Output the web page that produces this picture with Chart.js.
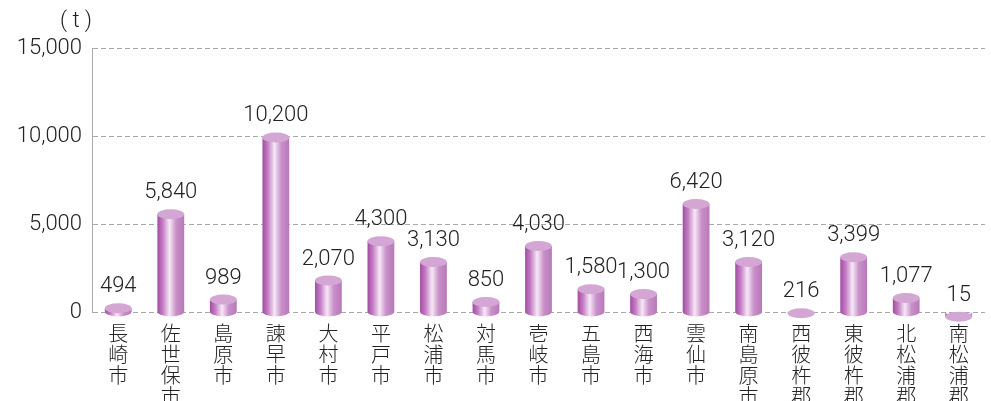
<!DOCTYPE html>
<html>
<head>
<meta charset="utf-8">
<script src="https://cdn.jsdelivr.net/npm/chart.js@4/dist/chart.umd.min.js"></script>
<style>
  html, body { margin: 0; padding: 0; background: #fff; }
</style>
</head>
<body>
<canvas id="chart" width="991" height="401"></canvas>
<script>
// ---------------- Data ----------------
const categories = [ '長崎市', '佐世保市', '島原市', '諫早市', '大村市', '平戸市', '松浦市',
                     '対馬市', '壱岐市', '五島市', '西海市', '雲仙市', '南島原市',
                     '西彼杵郡', '東彼杵郡', '北松浦郡', '南松浦郡' ] ;
const tonnage = [ 494, 5840, 989, 10200, 2070, 4300, 3130, 850, 4030, 1580, 1300,
                  6420, 3120, 216, 3399, 1077, 15 ] ;
const yTicks = [ 0, 5000, 10000, 15000 ] ;
const unitLabel = '( t )' ;

const NUM_FONT = 'Roboto, "DejaVu Sans", sans-serif' ;
const JP_FONT = '"Noto Sans CJK JP", sans-serif' ;

function fmt( v ) {
    return v.toLocaleString( 'en-US' ) ;
}

// cylinder drawing for each bar
const cylinderPlugin = {
    id: 'cylinder',
    afterDatasetsDraw( chart ) {
        const ctx = chart.ctx ;
        const meta = chart.getDatasetMeta( 0 ) ;
        meta.data.forEach( function( bar, i ) {
            const w = bar.width ;
            const x0 = bar.x - w / 2 ;
            const ry = 5 ;
            const top = bar.y + ry ;
            const bottom = bar.base ;
            const grad = ctx.createLinearGradient( x0, 0, x0 + w, 0 ) ;
            grad.addColorStop( 0.0, '#a24ca2' ) ;
            grad.addColorStop( 0.2, '#c47cc4' ) ;
            grad.addColorStop( 0.45, '#f6e8f6' ) ;
            grad.addColorStop( 0.7, '#c890c8' ) ;
            grad.addColorStop( 1.0, '#b878b8' ) ;
            ctx.save() ;
            ctx.fillStyle = grad ;
            ctx.beginPath() ;
            ctx.moveTo( x0, top ) ;
            ctx.lineTo( x0, bottom ) ;
            ctx.ellipse( bar.x, bottom, w / 2, ry, 0, Math.PI, 0, true ) ;
            ctx.lineTo( x0 + w, top ) ;
            ctx.closePath() ;
            ctx.fill() ;
            ctx.fillStyle = '#d3a6d3' ;
            ctx.beginPath() ;
            ctx.ellipse( bar.x, top, w / 2, ry, 0, 0, Math.PI * 2 ) ;
            ctx.fill() ;
            // value label
            ctx.fillStyle = '#222' ;
            ctx.font = '300 22px ' + NUM_FONT ;
            ctx.textAlign = 'center' ;
            ctx.textBaseline = 'alphabetic' ;
            ctx.fillText( fmt( tonnage[i] ), bar.x, bar.y - 11 ) ;
            ctx.restore() ;
        } ) ;
        // unit
        ctx.save() ;
        ctx.fillStyle = '#222' ;
        ctx.font = '300 22px ' + NUM_FONT ;
        ctx.textAlign = 'center' ;
        ctx.textBaseline = 'middle' ;
        ctx.fillText( unitLabel, 76, 21 ) ;
        ctx.restore() ;
    }
} ;

new Chart( document.getElementById( 'chart' ), {
    type: 'bar',
    data: {
        labels: categories.map( function( c ) { return c.split( '' ) ; } ),
        datasets: [ {
            data: tonnage,
            backgroundColor: 'rgba(0,0,0,0)',
            barPercentage: 0.51,
            categoryPercentage: 1.0
        } ]
    },
    options: {
        responsive: false,
        animation: false,
        layout: { padding: { top: 48, right: 6, left: 0, bottom: 0 } },
        plugins: { legend: { display: false }, tooltip: { enabled: false } },
        scales: {
            x: {
                afterFit: function( s ) { s.height = 89 ; },
                grid: { display: false },
                border: { display: false },
                ticks: {
                    color: '#222',
                    padding: 3,
                    maxRotation: 0,
                    autoSkip: false,
                    font: { family: JP_FONT, size: 20, weight: 300, lineHeight: 1.05 }
                }
            },
            y: {
                min: 0,
                max: 15000,
                afterFit: function( s ) { s.width = 92 ; },
                afterBuildTicks: function( s ) {
                    s.ticks = yTicks.map( function( v ) { return { value: v } ; } ) ;
                },
                border: { display: true, color: '#aaa', width: 1, dash: [ 5, 3 ] },
                grid: {
                    color: '#aaa',
                    drawTicks: false
                },
                ticks: {
                    color: '#222',
                    padding: 10,
                    font: { family: NUM_FONT, size: 22, weight: 300 },
                    callback: function( v ) { return fmt( v ) ; }
                }
            }
        }
    },
    plugins: [ cylinderPlugin ]
} ) ;
</script>
</body>
</html>
